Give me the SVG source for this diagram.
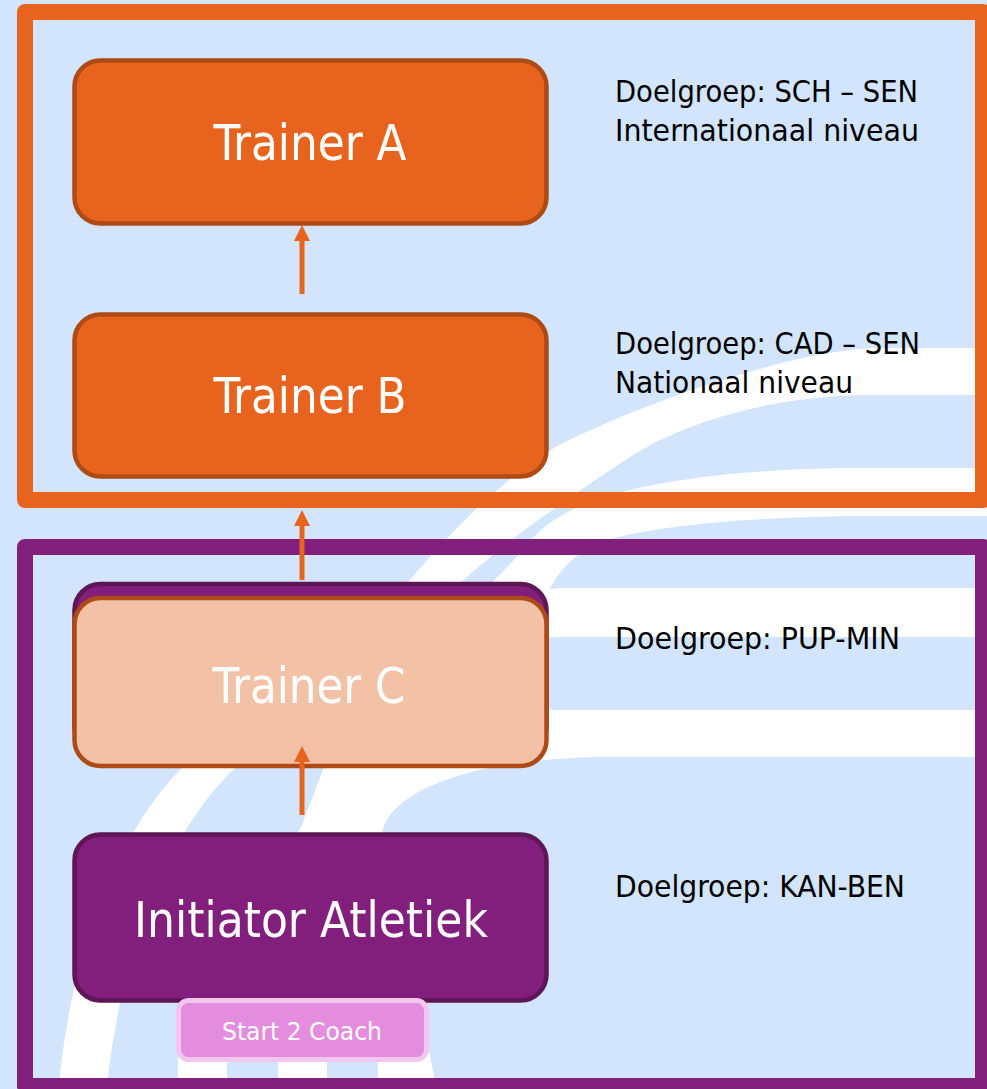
<svg xmlns="http://www.w3.org/2000/svg" width="987" height="1089" viewBox="0 0 987 1089">
  <defs>
    <style>
      .lane { fill: #FFFFFF; }
      .gap { fill: #D2E5FC; }
      .frame { fill: none; stroke-width: 16; stroke-linejoin: round; }
      .box-orange { fill: #E8641E; stroke: #AD4A15; stroke-width: 4.5; }
      .box-peach { fill: #F3C2A6; stroke: #AD4A15; stroke-width: 4.5; }
      .box-purple { fill: #821E7B; stroke: #5E1657; stroke-width: 4.5; }
      .box-pink { fill: #E48DDF; stroke: #F3C6F0; stroke-width: 5; }
      .label { font-family: "DejaVu Sans Condensed", "DejaVu Sans", sans-serif; fill: #FFFFFF; text-anchor: middle; }
      .big { font-size: 49px; }
      .small { font-size: 25px; }
      .note { font-family: "DejaVu Sans Condensed", "DejaVu Sans", sans-serif; font-size: 30px; fill: #000000; }
      .link { fill: none; stroke: #E8641E; stroke-width: 5; }
    </style>
    <marker id="head" viewBox="0 0 16 16" refX="0" refY="8" markerUnits="userSpaceOnUse" markerWidth="16" markerHeight="16" orient="auto">
      <path d="M0,0 L16,8 L0,16 Z" fill="#E8641E"/>
    </marker>
  </defs>

  <!-- backdrop: light blue field with curved white track lanes -->
  <g id="background">
    <rect x="0" y="0" width="987" height="1089" fill="#D2E5FC"/>
    <!-- outer lane -->
    <path class="lane" d="M995,348 H880 C800,348 650,400 563,443 C520,465 460,520 410,580 C350,650 230,720 180,770 C120,830 70,950 58,1095 L106,1095 C120,950 170,830 233,770 C290,715 400,640 467,577 C520,530 580,490 630,457 C680,425 760,398 860,395 H995 Z"/>
    <!-- inner lanes, drawn as one white sweep with blue gaps cut back in -->
    <path class="lane" d="M995,468 H860 C760,468 680,478 630,490 C570,505 540,525 525,548 C460,620 360,700 323,770 L303,822 C290,860 185,950 178,1003 L178,1095 L437,1095 C425,1010 385,900 382,840 C380,800 450,760 600,757 H995 Z"/>
    <path class="gap" d="M995,516 H860 C760,517 660,524 600,542 C580,550 560,568 550,589 L560,588 H995 Z"/>
    <path class="gap" d="M995,637 H560 C500,637 450,660 420,700 C450,695 500,710 560,710 H995 Z"/>
    <rect class="gap" x="227" y="1000" width="51" height="95"/>
    <rect class="gap" x="327" y="1000" width="51" height="95"/>
  </g>

  <!-- level frames -->
  <g id="frames">
    <rect id="frame-upper" class="frame" stroke="#E8641E" x="25" y="12" width="958" height="488"/>
    <rect id="frame-lower" class="frame" stroke="#821E7B" x="25" y="547" width="958" height="539"/>
  </g>

  <!-- target group notes -->
  <g id="note-a">
    <text class="note" x="615" y="102" textLength="303" lengthAdjust="spacingAndGlyphs">Doelgroep: SCH – SEN</text>
    <text class="note" x="615" y="141" textLength="304" lengthAdjust="spacingAndGlyphs">Internationaal niveau</text>
  </g>
  <g id="note-b">
    <text class="note" x="615" y="354" textLength="305" lengthAdjust="spacingAndGlyphs">Doelgroep: CAD – SEN</text>
    <text class="note" x="615" y="393" textLength="238" lengthAdjust="spacingAndGlyphs">Nationaal niveau</text>
  </g>
  <g id="note-c">
    <text class="note" x="615" y="649" textLength="285" lengthAdjust="spacingAndGlyphs">Doelgroep: PUP-MIN</text>
  </g>
  <g id="note-initiator">
    <text class="note" x="615" y="897" textLength="290" lengthAdjust="spacingAndGlyphs">Doelgroep: KAN-BEN</text>
  </g>

  <!-- nodes -->
  <g id="trainer-a">
    <rect class="box-orange" x="74.5" y="60.5" width="472" height="163" rx="26"/>
    <text class="label big" x="310" y="160" textLength="193" lengthAdjust="spacingAndGlyphs">Trainer A</text>
  </g>
  <g id="trainer-b">
    <rect class="box-orange" x="74.5" y="314.5" width="472" height="162" rx="26"/>
    <text class="label big" x="310" y="413" textLength="193" lengthAdjust="spacingAndGlyphs">Trainer B</text>
  </g>
  <g id="trainer-c">
    <rect class="box-purple" x="74.5" y="584" width="472" height="168" rx="26"/>
    <rect class="box-peach" x="74.5" y="598" width="472" height="168" rx="26"/>
    <text class="label big" x="309" y="703" textLength="193" lengthAdjust="spacingAndGlyphs">Trainer C</text>
  </g>
  <g id="initiator">
    <rect class="box-purple" x="74.5" y="834.5" width="472" height="166" rx="26"/>
    <text class="label big" x="311" y="937" textLength="354" lengthAdjust="spacingAndGlyphs">Initiator Atletiek</text>
  </g>
  <g id="start-2-coach">
    <rect class="box-pink" x="178.5" y="1000.5" width="248" height="59" rx="10"/>
    <text class="label small" x="302" y="1040" textLength="160" lengthAdjust="spacingAndGlyphs">Start 2 Coach</text>
  </g>

  <!-- progression arrows -->
  <g id="connectors">
    <path class="link" d="M302,294 V241" marker-end="url(#head)"/>
    <path class="link" d="M302,580 V526" marker-end="url(#head)"/>
    <path class="link" d="M302,815 V762" marker-end="url(#head)"/>
  </g>
</svg>
